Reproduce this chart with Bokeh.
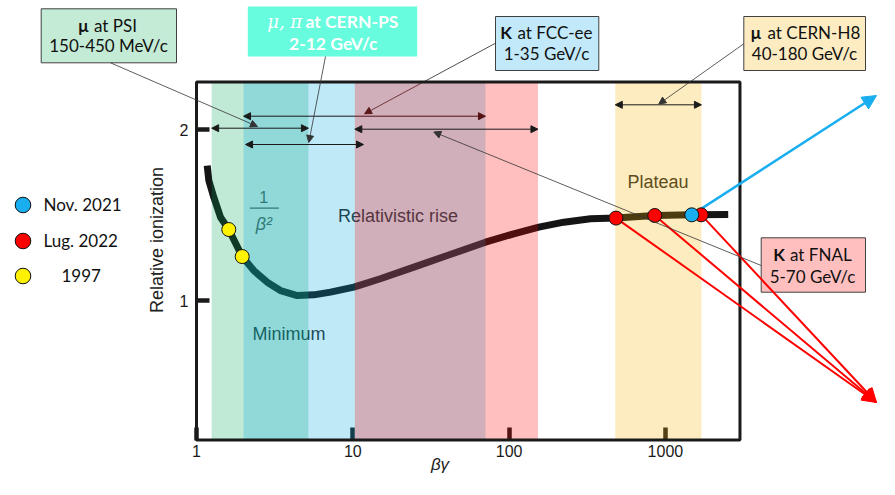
from bokeh.plotting import figure
from bokeh.models import (Range1d, LogScale, LogAxis, LinearAxis, FixedTicker,
                          PrintfTickFormatter, Arrow, NormalHead, Legend, LegendItem)
from bokeh.core.properties import value
from bokeh.embed import file_html
from bokeh.resources import INLINE

# ---------------- data ----------------
curve_bg = [1.171, 1.199, 1.290, 1.424, 1.609, 1.961, 2.326, 2.834, 3.446, 4.41,
            5.63, 7.20, 10.15, 15.0, 24.6, 40.2, 70.6, 107, 155, 224, 332, 483,
            855, 1475, 2523]
curve_ion = [1.789, 1.702, 1.604, 1.487, 1.415, 1.257, 1.175, 1.107, 1.058, 1.029,
             1.033, 1.049, 1.078, 1.127, 1.195, 1.263, 1.341, 1.390, 1.429, 1.458,
             1.478, 1.482, 1.497, 1.501, 1.503]

nov2021_bg = [1475]
nov2021_ion = [1.501]
lug2022_bg = [483, 855, 1694]
lug2022_ion = [1.482, 1.497, 1.501]
y1997_bg = [1.609, 1.961]
y1997_ion = [1.415, 1.257]

# beta*gamma ranges of the beams
psi_range = [1.25, 5.2]        # mu at PSI
fcc_range = [2.0, 70.6]        # K at FCC-ee
fnal_range = [10.3, 153]       # K at FNAL
cernps_range = [2.06, 11.7]    # mu, pi at CERN-PS
h8_range = [478, 1700]         # mu at CERN-H8

x_ticks = [1, 10, 100, 1000]
y_ticks = [1, 2]
x_box = [1, 3000]
y_box = [0.184, 2.278]

# ---------------- layout helpers (picture pixel -> data) ----------------
X0, DEC = 196.0, 156.3
Y2, UNIT = 129.0, 171.0
W, H = 879, 479


def dx(px):
    return 10 ** ((px - X0) / DEC)


def dy(py):
    return 2.0 - (py - Y2) / UNIT


p = figure(width=W, height=H, output_backend="svg", toolbar_location=None,
           x_axis_type=None, y_axis_type=None,
           x_range=Range1d(dx(0), dx(W)), y_range=Range1d(dy(H), dy(0)),
           min_border=0, min_border_left=0, min_border_right=0,
           min_border_top=0, min_border_bottom=0,
           outline_line_color=None, background_fill_color="white",
           border_fill_color="white")
p.x_scale = LogScale()
p.title.visible = False

# ---------------- axes ----------------
xaxis = LogAxis(fixed_location=y_box[0], ticker=FixedTicker(ticks=x_ticks),
                formatter=PrintfTickFormatter(format="%d"), axis_label="βγ")
yaxis = LinearAxis(fixed_location=x_box[0], ticker=FixedTicker(ticks=y_ticks),
                   formatter=PrintfTickFormatter(format="%d"),
                   axis_label="Relative ionization")
for ax in (xaxis, yaxis):
    ax.level = "underlay"
    ax.axis_line_color = None
    ax.major_tick_in = 13
    ax.major_tick_out = 0
    ax.major_tick_line_width = 4.5
    ax.major_tick_line_color = "#1a1a1a"
    ax.minor_tick_line_color = None
    ax.major_label_text_font = "Liberation Sans"
    ax.major_label_text_font_size = "16px"
    ax.major_label_text_color = "#1a1a1a"
    ax.axis_label_text_font = "Liberation Sans"
    ax.axis_label_text_color = "#222222"
xaxis.major_label_standoff = 5
xaxis.axis_label_standoff = -6
xaxis.axis_label_text_font_size = "17px"
xaxis.axis_label_text_font_style = "italic"
yaxis.major_label_standoff = 8
yaxis.axis_label_standoff = 10
yaxis.axis_label_text_font_size = "18px"
yaxis.axis_label_text_font_style = "normal"
p.add_layout(xaxis, "below")
p.add_layout(yaxis, "left")


def txt(px, py, s, size="18px", color="#333333", align="center", style="normal",
        font="Liberation Sans", level="underlay"):
    return p.text(x=[dx(px)], y=[dy(py)], text=[s], text_font=value(font),
                  text_font_size=size, text_color=color, text_align=align,
                  text_baseline="middle", text_font_style=style, level=level)


# ---------------- curve and labels (under the translucent bands) ----------------
p.line(curve_bg, curve_ion, line_width=7, line_color="#151515",
       line_join="round", level="underlay")
txt(397.5, 215.7, "Relativistic rise", color="#262626")
txt(657.5, 181.7, "Plateau", color="#2a2a2a")
txt(288.5, 333, "Minimum", color="#2a2a2a")
txt(263.3, 196.7, "1", size="16px", color="#555555")
p.segment(x0=[dx(249.3)], y0=[dy(207.7)], x1=[dx(278.3)], y1=[dy(207.7)],
          line_color="#555555", line_width=1.3, level="underlay")
txt(263.3, 223.3, "β²", size="18px", color="#555555", style="italic")


def band(rng, color, level):
    p.quad(left=[rng[0]], right=[rng[1]], bottom=[y_box[0]], top=[y_box[1]],
           fill_color=color, fill_alpha=0.25, line_color=None, level=level)


band(psi_range, "#04ac58", "glyph")
band(fcc_range, "#04a8e4", "glyph")
band(h8_range, "#f8b400", "glyph")
band(fnal_range, "#ff0000", "annotation")

# plot box
p.quad(left=[x_box[0]], right=[x_box[1]], bottom=[y_box[0]], top=[y_box[1]],
       fill_color=None, line_color="#1a1a1a", line_width=3, level="annotation")


# ---------------- annotation boxes ----------------
def box(l, t, r, b, fill, border="#404040"):
    p.quad(left=[dx(l)], right=[dx(r)], top=[dy(t)], bottom=[dy(b)],
           fill_color=fill, line_color=border, line_width=1, level="glyph")


F = "Lato"
box(40.7, 8.3, 176, 62.3, "#c4ebd6")
txt(88, 25, "μ", size="17px", color="#111111", align="right", style="bold", font=F, level="glyph")
txt(93.5, 25, "at PSI", size="17px", color="#111111", align="left", font=F, level="glyph")
txt(108, 45, "150-450 MeV/c", size="17px", color="#111111", font=F, level="glyph")

box(247.3, 6, 416.7, 56, "#66fcdd", border=None)
txt(301.7, 20.7, "μ, π", size="18px", color="white", align="right", style="italic",
    font="DejaVu Serif", level="glyph")
txt(305, 20.7, "at CERN-PS", size="17.5px", color="white", align="left", style="bold", font=F, level="glyph")
txt(332.8, 43.3, "2-12 GeV/c", size="17.5px", color="white", style="bold", font=F, level="glyph")

box(495, 16, 598.3, 70, "#c2e9f9")
txt(511.5, 32.3, "K", size="17px", color="#111111", align="right", style="bold", font=F, level="glyph")
txt(517, 32.3, "at FCC-ee", size="17px", color="#111111", align="left", font=F, level="glyph")
txt(546, 53.3, "1-35 GeV/c", size="17px", color="#111111", font=F, level="glyph")

box(743.3, 16, 865, 70, "#fdecc2")
txt(760.5, 32.3, "μ", size="17px", color="#111111", align="right", style="bold", font=F, level="glyph")
txt(767, 32.3, "at CERN-H8", size="17px", color="#111111", align="left", font=F, level="glyph")
txt(804, 53.3, "40-180 GeV/c", size="17px", color="#111111", font=F, level="glyph")

box(760.7, 237.3, 865, 291.7, "#ffbfbf")
txt(784.5, 254, "K", size="17px", color="#111111", align="right", style="bold", font=F, level="glyph")
txt(789.5, 254, "at FNAL", size="17px", color="#111111", align="left", font=F, level="glyph")
txt(812, 276, "5-70 GeV/c", size="17px", color="#111111", font=F, level="glyph")


# ---------------- arrows ----------------
def head(size, color):
    return NormalHead(size=size, fill_color=color, line_color=color, line_width=1)


def range_arrow(rng, yv, level="overlay", color="#1a1a1a"):
    p.add_layout(Arrow(x_start=rng[0], y_start=yv, x_end=rng[1], y_end=yv,
                       start=head(7, color), end=head(7, color),
                       line_color=color, line_width=1, level=level))


def pointer(p0, p1, color="#333333", width=0.8, size=7, level="overlay"):
    p.add_layout(Arrow(x_start=dx(p0[0]), y_start=dy(p0[1]),
                       x_end=dx(p1[0]), y_end=dy(p1[1]),
                       start=None, end=head(size, color),
                       line_color=color, line_width=width, level=level))


# under the pink band
range_arrow(fcc_range, dy(115.7), level="guide")
pointer((495, 42.7), (364, 113.3), color="#222222", level="guide")
# above everything
range_arrow(psi_range, dy(127.7))
range_arrow(fnal_range, dy(128.7))
range_arrow(cernps_range, dy(144))
range_arrow(h8_range, dy(104.3))
pointer((110, 62.3), (257, 126))
pointer((325, 56), (308.3, 142))
pointer((743.3, 43.3), (658.3, 103.5))
pointer((760.7, 265), (433.3, 131.5))

# coloured pointers from the measurements
for bx, iy in zip(lug2022_bg, lug2022_ion):
    p.add_layout(Arrow(x_start=bx, y_start=iy, x_end=dx(876), y_end=dy(402),
                       start=None, end=head(14, "#ff0000"),
                       line_color="#ff0000", line_width=2, level="annotation"))
for bx, iy in zip(nov2021_bg, nov2021_ion):
    p.add_layout(Arrow(x_start=bx, y_start=iy, x_end=dx(876), y_end=dy(95),
                       start=None, end=head(14, "#19aef0"),
                       line_color="#19aef0", line_width=2.5, level="annotation"))

# ---------------- measurement points ----------------
r_lug = p.scatter(lug2022_bg, lug2022_ion, size=14, fill_color="#ff0000",
                  line_color="#111111", line_width=1, level="overlay")
r_nov = p.scatter(nov2021_bg, nov2021_ion, size=14, fill_color="#19aef0",
                  line_color="#111111", line_width=1, level="overlay")
r_97 = p.scatter(y1997_bg, y1997_ion, size=14, fill_color="#fff200",
                 line_color="#111111", line_width=1, level="overlay")

# ---------------- legend (one per entry, to match the spacing) ----------------
G = 39
for rend, lab, cy, standoff in [(r_nov, "Nov. 2021", 204, 2),
                                (r_lug, "Lug. 2022", 240, 2),
                                (r_97, "1997", 275.5, 20)]:
    leg = Legend(items=[LegendItem(label=lab, renderers=[rend])],
                 location=(22 - G / 2, H - cy - G / 2),
                 glyph_width=G, glyph_height=G, label_standoff=standoff,
                 padding=0, margin=0, spacing=0, border_line_color=None,
                 background_fill_alpha=0, label_text_font="Lato",
                 label_text_font_size="17px", label_text_color="#111111")
    p.add_layout(leg)

open("out.html", "w").write(file_html(p, INLINE))
